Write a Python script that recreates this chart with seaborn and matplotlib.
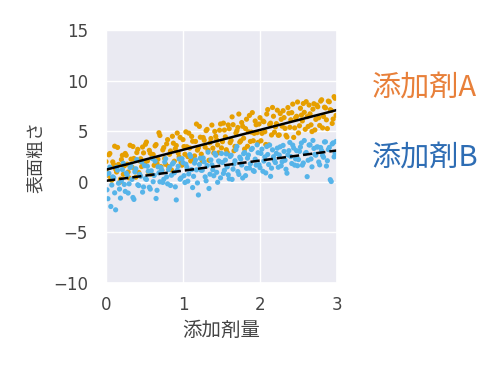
import pandas as pd
import seaborn as sns

import matplotlib
matplotlib.use("Agg")
import matplotlib.pyplot as plt

# Scatter data (two passes per series)
x_a1 = [0.000, 0.025, 0.050, 0.075, 0.100, 0.125, 0.150, 0.175, 0.200, 0.225,
        0.250, 0.275, 0.300, 0.325, 0.350, 0.375, 0.400, 0.425, 0.450, 0.475,
        0.500, 0.525, 0.550, 0.575, 0.600, 0.625, 0.650, 0.675, 0.700, 0.725,
        0.750, 0.775, 0.800, 0.825, 0.850, 0.875, 0.900, 0.925, 0.950, 0.975,
        1.000, 1.025, 1.050, 1.075, 1.100, 1.125, 1.150, 1.175, 1.200, 1.225,
        1.250, 1.275, 1.300, 1.325, 1.350, 1.375, 1.400, 1.425, 1.450, 1.475,
        1.500, 1.525, 1.550, 1.575, 1.600, 1.625, 1.650, 1.675, 1.700, 1.725,
        1.750, 1.775, 1.800, 1.825, 1.850, 1.875, 1.900, 1.925, 1.950, 1.975,
        2.000, 2.025, 2.050, 2.075, 2.100, 2.125, 2.150, 2.175, 2.200, 2.225,
        2.250, 2.275, 2.300, 2.325, 2.350, 2.375, 2.400, 2.425, 2.450, 2.475,
        2.500, 2.525, 2.550, 2.575, 2.600, 2.625, 2.650, 2.675, 2.700, 2.725,
        2.750, 2.775, 2.800, 2.825, 2.850, 2.875, 2.900, 2.925, 2.950, 2.975]
y_a1 = [2.00, 0.65, 2.80, 0.15, 1.70, 1.25, 3.40, -0.06, 2.20, 0.74,
        2.80, 1.74, 0.39, 2.24, 3.49, 1.24, 2.89, 0.93, 2.28, 3.44,
        1.79, 3.93, 0.98, 2.83, 2.48, 1.63, 3.68, 2.23, 4.58, 1.13,
        3.38, 1.73, 4.17, 2.72, 1.17, 3.82, 3.27, 4.82, 2.47, 1.92,
        4.17, 2.72, 3.47, 4.81, 2.06, 4.01, 2.56, 5.71, 3.36, 4.41,
        2.06, 4.11, 5.06, 3.11, 3.86, 5.61, 2.85, 4.50, 3.65, 5.10,
        3.35, 5.80, 4.45, 2.90, 5.25, 4.10, 5.65, 3.50, 5.05, 6.70,
        4.05, 5.49, 3.24, 6.19, 4.94, 3.99, 6.84, 4.79, 5.64, 3.89,
        6.34, 4.79, 5.94, 3.69, 7.14, 5.68, 4.63, 6.48, 5.43, 7.08,
        4.63, 6.18, 7.03, 5.28, 4.43, 6.78, 6.13, 7.68, 5.33, 6.48,
        4.83, 7.27, 6.02, 6.87, 7.92, 5.47, 6.72, 4.97, 7.72, 6.17,
        7.42, 5.57, 8.11, 6.46, 7.31, 5.26, 7.91, 7.06, 6.21, 8.26]
x_a2 = [0.0125, 0.0375, 0.0625, 0.0875, 0.1125, 0.1375, 0.1625, 0.1875, 0.2125, 0.2375,
        0.2625, 0.2875, 0.3125, 0.3375, 0.3625, 0.3875, 0.4125, 0.4375, 0.4625, 0.4875,
        0.5125, 0.5375, 0.5625, 0.5875, 0.6125, 0.6375, 0.6625, 0.6875, 0.7125, 0.7375,
        0.7625, 0.7875, 0.8125, 0.8375, 0.8625, 0.8875, 0.9125, 0.9375, 0.9625, 0.9875,
        1.0125, 1.0375, 1.0625, 1.0875, 1.1125, 1.1375, 1.1625, 1.1875, 1.2125, 1.2375,
        1.2625, 1.2875, 1.3125, 1.3375, 1.3625, 1.3875, 1.4125, 1.4375, 1.4625, 1.4875,
        1.5125, 1.5375, 1.5625, 1.5875, 1.6125, 1.6375, 1.6625, 1.6875, 1.7125, 1.7375,
        1.7625, 1.7875, 1.8125, 1.8375, 1.8625, 1.8875, 1.9125, 1.9375, 1.9625, 1.9875,
        2.0125, 2.0375, 2.0625, 2.0875, 2.1125, 2.1375, 2.1625, 2.1875, 2.2125, 2.2375,
        2.2625, 2.2875, 2.3125, 2.3375, 2.3625, 2.3875, 2.4125, 2.4375, 2.4625, 2.4875,
        2.5125, 2.5375, 2.5625, 2.5875, 2.6125, 2.6375, 2.6625, 2.6875, 2.7125, 2.7375,
        2.7625, 2.7875, 2.8125, 2.8375, 2.8625, 2.8875, 2.9125, 2.9375, 2.9625, 2.9875]
y_a2 = [0.92, 2.67, 0.32, 1.97, 3.52, 0.97, 1.72, 0.27, 2.62, 1.57,
        2.62, 0.97, 3.61, 1.46, 2.31, 0.46, 3.21, 2.06, 1.51, 2.86,
        3.71, 2.06, 3.11, 0.76, 2.70, 3.55, 1.80, 4.85, 1.50, 3.15,
        2.30, 3.75, 1.50, 3.05, 4.50, 2.04, 3.59, 2.84, 4.39, 1.64,
        3.49, 4.94, 2.49, 3.34, 4.49, 2.24, 3.99, 3.13, 5.48, 2.73,
        4.38, 3.43, 5.18, 2.13, 4.28, 3.33, 4.98, 4.13, 2.87, 5.72,
        3.97, 5.12, 3.17, 5.62, 3.87, 6.42, 3.07, 4.82, 5.37, 3.92,
        5.86, 4.31, 5.26, 3.51, 6.56, 4.91, 4.06, 6.01, 4.86, 5.71,
        4.06, 6.01, 4.95, 6.70, 3.65, 5.80, 7.35, 4.90, 5.75, 4.60,
        6.75, 5.50, 6.35, 4.59, 7.34, 5.39, 6.84, 4.39, 6.34, 7.89,
        5.54, 6.59, 7.74, 5.19, 6.44, 7.59, 5.63, 7.18, 5.13, 7.58,
        6.33, 7.98, 5.33, 7.38, 6.13, 7.98, 7.13, 5.77, 8.42, 6.57]

x_b1 = x_a2
y_b1 = [-0.79, 0.84, -2.44, 0.49, -1.09, 1.44, -0.14, -1.61, 1.21, -0.26,
        0.86, -1.11, 1.41, 0.24, -1.74, 1.29, -0.29, 0.74, 1.96, -0.51,
        0.31, 1.54, -0.54, 1.09, 0.01, 2.04, -0.84, 0.89, 1.41, -0.06,
        1.96, 0.49, 1.21, -0.36, 1.76, 0.89, -1.79, 1.54, 0.26, 2.29,
        0.61, 1.74, 0.06, 2.69, 1.21, 0.54, 2.16, -0.11, 1.71, 1.14,
        2.36, 0.49, 1.61, -0.66, 2.16, 1.19, 2.81, 0.94, 2.06, 0.39,
        1.91, 1.14, 2.76, 0.69, 2.51, 0.24, 1.76, 3.19, 1.01, 2.44,
        1.66, 2.79, 0.61, 2.34, 1.36, 3.19, 1.11, 2.24, 3.66, 1.69,
        2.81, 1.04, 2.46, 3.49, 1.71, 0.54, 3.16, 2.09, 2.81, 1.44,
        3.46, 1.99, 3.01, 1.24, 2.66, 3.89, 1.81, 3.34, 2.26, 1.59,
        3.01, 3.84, 1.86, 2.79, 0.51, 3.64, 2.26, 4.09, 2.71, 3.44,
        1.96, 3.39, 2.61, 3.94, 1.56, 3.19, 0.21, 3.74, 2.46, 3.99]
x_b2 = x_a1
y_b2 = [0.70, -1.67, 1.45, -0.32, 0.40, -2.77, 1.15, -0.72, 0.10, 1.83,
        -0.95, 0.68, -0.20, 1.53, -1.55, 0.98, 2.20, -0.37, 0.55, -1.02,
        1.60, 0.23, 1.05, -0.72, 2.30, 0.63, -1.65, 1.48, 0.00, 1.13,
        0.25, 2.28, -0.20, 1.43, 0.65, 1.88, -0.50, 1.13, 2.25, 0.38,
        1.90, -0.07, 1.45, 0.78, 2.50, -0.57, 1.85, 1.18, -1.30, 2.33,
        1.15, 1.98, 0.10, 2.93, 0.75, 1.68, 0.60, 2.63, -0.05, 1.98,
        2.80, 0.83, 2.15, 1.48, 0.30, 2.63, 1.25, 2.08, 3.50, 0.73,
        2.25, 0.38, 2.90, 1.33, 2.65, 1.78, 3.30, 1.03, 1.65, 2.88,
        1.40, 3.23, 2.05, 0.88, 2.70, 3.63, 1.35, 2.48, 1.90, 3.33,
        2.65, 1.58, 3.60, 2.13, 0.85, 3.08, 2.50, 3.63, 1.65, 3.08,
        2.20, 3.43, 1.65, 4.08, 2.90, 2.13, 3.65, 1.48, 3.30, 2.63,
        3.45, 1.68, 3.10, 2.43, 3.95, 2.08, 3.40, 0.03, 3.85, 2.78]

# Fitted lines (end points)
line_x = [0, 3]
line_a = [1.2, 7.1]
line_b = [0.1, 3.1]

labels = ["添加剤A", "添加剤B"]
point_colors = ["#E69F00", "#56B4E9"]
label_colors = ["#E8803A", "#2E6DB4"]

df = pd.concat([
    pd.DataFrame({"x": x_a1 + x_a2, "y": y_a1 + y_a2, "group": labels[0]}),
    pd.DataFrame({"x": x_b1 + x_b2, "y": y_b1 + y_b2, "group": labels[1]}),
])

sns.set_theme(style="darkgrid")
plt.rcParams["font.family"] = ["DejaVu Sans", "Noto Sans CJK JP"]

fig = plt.figure(figsize=(5, 3.67), dpi=100)
ax = fig.add_axes([0.212, 0.229, 0.462, 0.689])

sns.scatterplot(data=df, x="x", y="y", hue="group", palette=point_colors,
                s=14, linewidth=0, legend=False, ax=ax)
ax.plot(line_x, line_a, color="black", lw=1.8)
ax.plot(line_x, line_b, color="black", lw=1.8, ls="--")

ax.set_xlim(0, 3)
ax.set_ylim(-10, 15)
ax.set_xticks([0, 1, 2, 3])
ax.set_yticks([-10, -5, 0, 5, 10, 15])
ax.tick_params(labelsize=12, colors="#444444")
ax.tick_params(axis="y", pad=7)
ax.set_xlabel("添加剤量", fontsize=14, family="Noto Sans CJK JP",
              color="#444444", labelpad=4)
ax.set_ylabel("表面粗さ", fontsize=13, family="Noto Sans CJK JP",
              color="#444444", labelpad=6)

ax.text(3.45, 9.3, labels[0], color=label_colors[0], fontsize=21,
        family="Noto Sans CJK JP", va="center", clip_on=False)
ax.text(3.45, 2.4, labels[1], color=label_colors[1], fontsize=21,
        family="Noto Sans CJK JP", va="center", clip_on=False)

fig.savefig("out.png", dpi=100)
